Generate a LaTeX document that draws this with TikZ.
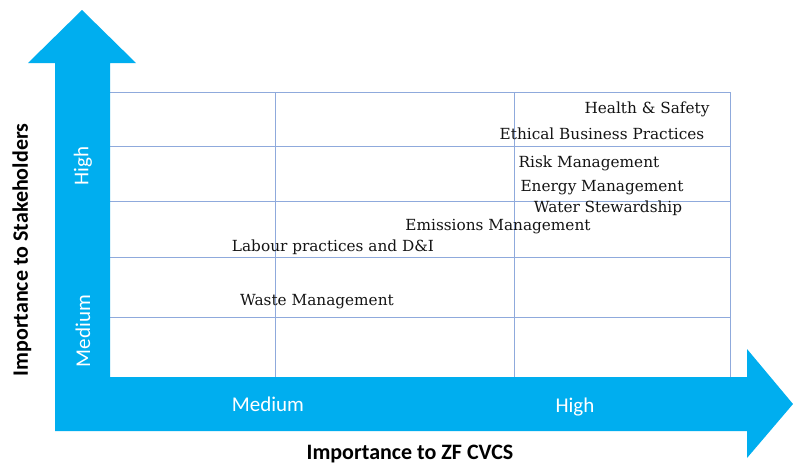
\documentclass[tikz,border=0pt]{standalone}
\usepackage{fontspec}
\setmainfont{DejaVu Serif}
\setsansfont{Carlito}
\definecolor{arrowblue}{RGB}{0,174,239}
\definecolor{gridblue}{RGB}{143,170,220}
\begin{document}
\begin{tikzpicture}[x=1pt,y=-1pt,
  gridline/.style={draw=gridblue,line width=0.9pt},
  topic/.style={font=\fontsize{15.3}{17}\selectfont,inner sep=0pt,text=black!92},
  axlbl/.style={font=\sffamily\fontsize{21}{24}\selectfont,text=white,inner sep=0pt},
  axtitle/.style={font=\sffamily\bfseries\fontsize{22}{25}\selectfont,inner sep=0pt}]
\useasboundingbox (0,0) rectangle (793,464);
\fill[white] (0,0) rectangle (793,464);
% grid
\foreach \yy in {92,146,201,257,317} \draw[gridline] (110,\yy) -- (730,\yy);
\foreach \xx in {275,514,730} \draw[gridline] (\xx,92) -- (\xx,377);
% arrows
\fill[arrowblue] (55,431) -- (55,63) -- (28,63) -- (82,10) -- (136,63) -- (110,63)
  -- (110,377) -- (747,377) -- (747,349) -- (793,404) -- (747,458) -- (747,431) -- cycle;
% axis labels
\node[axlbl,rotate=90] (yhigh) at (83,166) {High};
\node[axlbl,rotate=90] (ymed) at (83,331) {Medium};
\node[axlbl] (xmed) at (268,404) {Medium};
\node[axlbl] (xhigh) at (575,407) {High};
\node[axtitle,rotate=90] (ytitle) at (22,250) {Importance to Stakeholders};
\node[axtitle] (xtitle) at (410,454) {Importance to ZF CVCS};
% topics
\node[topic] (hs) at (647,109.5) {Health \& Safety};
\node[topic] (eb) at (602,133.5) {Ethical Business Practices};
\node[topic] (rm) at (589,163.5) {Risk Management};
\node[topic] (em) at (602,187.5) {Energy Management};
\node[topic] (ws) at (608,208.5) {Water Stewardship};
\node[topic] (emi) at (498,226.5) {Emissions Management};
\node[topic] (lp) at (333,247.5) {Labour practices and D\&I};
\node[topic] (wm) at (317,301.5) {Waste Management};
\end{tikzpicture}
\end{document}
